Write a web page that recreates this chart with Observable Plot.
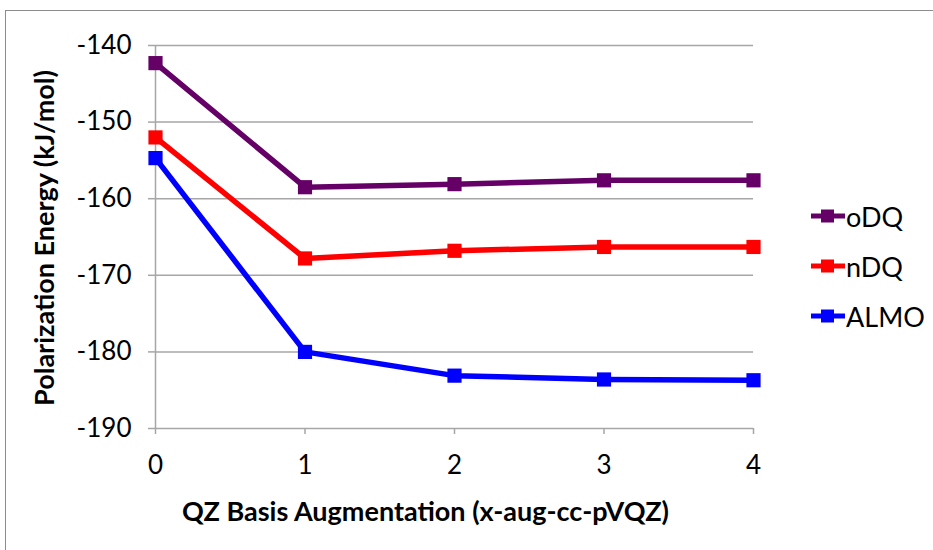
<!DOCTYPE html>
<html>
<head>
<meta charset="utf-8">
<script src="https://cdn.jsdelivr.net/npm/d3@7"></script>
<script src="https://cdn.jsdelivr.net/npm/@observablehq/plot@0.6"></script>
<style>
  html, body { margin: 0; padding: 0; background: #fff; }
  #wrap { position: relative; width: 933px; height: 550px; overflow: hidden; font-family: Lato, "Open Sans", sans-serif; }
  #frame { position: absolute; left: 5px; top: 10px; width: 1000px; height: 700px; border-left: 1.5px solid #8c8c8c; border-top: 1.5px solid #8c8c8c; }
  #legend { position: absolute; left: 811px; top: 191px; }
  .item { display: flex; align-items: center; height: 50px; margin: 0; font-size: 27px; color: #000; }
  .item svg { display: block; margin-right: 1px; }
</style>
</head>
<body>
<div id="wrap">
  <div id="frame"></div>
  <div id="chart"></div>
  <div id="legend"></div>
</div>
<script>
const augmentation = [0, 1, 2, 3, 4];
const seriesNames = ["oDQ", "nDQ", "ALMO"];
const oDQ = [-142.3, -158.5, -158.1, -157.6, -157.6];
const nDQ = [-152.0, -167.8, -166.8, -166.3, -166.3];
const ALMO = [-154.7, -180.0, -183.1, -183.6, -183.7];
const colors = ["#640066", "#ff0000", "#0000ff"];
const yTicks = [-190, -180, -170, -160, -150, -140];
const xLabel = "QZ Basis Augmentation (x-aug-cc-pVQZ)";
const yLabel = "Polarization Energy (kJ/mol)";

const values = { oDQ, nDQ, ALMO };
const data = seriesNames.flatMap(s => augmentation.map((x, i) => ({ series: s, x, y: values[s][i] })));

const chart = Plot.plot({
  width: 933,
  height: 550,
  marginLeft: 155,
  marginRight: 180,
  marginTop: 45,
  marginBottom: 122,
  style: { fontFamily: "Lato, 'Open Sans', sans-serif", fontSize: "26px", color: "#000", background: "transparent", overflow: "visible" },
  x: { domain: [0, 4] },
  y: { domain: [-190, -140] },
  color: { domain: seriesNames, range: colors },
  marks: [
    Plot.gridY(yTicks, { stroke: "#a6a6a6", strokeOpacity: 1, strokeWidth: 1.5 }),
    Plot.axisY(yTicks, { tickSize: 7, tickPadding: 17, stroke: "#a6a6a6", strokeWidth: 1.5, label: null, fontSize: 26, tickFormat: d => "-" + Math.abs(d) }),
    Plot.axisX(augmentation, { tickSize: 6, tickPadding: 21, stroke: "#a6a6a6", strokeWidth: 1.5, label: null, fontSize: 26, tickFormat: d => String(d) }),
    Plot.ruleX([0], { stroke: "#a6a6a6", strokeWidth: 1.5 }),
    Plot.line(data, { x: "x", y: "y", z: "series", stroke: "series", strokeWidth: 5.5, strokeLinejoin: "round" }),
    Plot.dot(data, { x: "x", y: "y", fill: "series", symbol: "square", r: 8, stroke: null }),
    Plot.text([xLabel], { frameAnchor: "bottom", dx: -29, dy: 92, fontWeight: "bold", fontSize: 27, fill: "#000", textAnchor: "middle" }),
    Plot.text([yLabel], { frameAnchor: "left", dx: -110, dy: 1, rotate: -90, fontWeight: "bold", fontSize: 27, fill: "#000", textAnchor: "middle", lineAnchor: "middle" })
  ]
});
document.getElementById("chart").appendChild(chart);

const legend = document.getElementById("legend");
seriesNames.forEach((s, i) => {
  const item = document.createElement("div");
  item.className = "item";
  item.innerHTML = `<svg width="34" height="16"><line x1="0" y1="8" x2="34" y2="8" stroke="${colors[i]}" stroke-width="5"/><rect x="10" y="1.5" width="13" height="13" fill="${colors[i]}"/></svg><span>${s}</span>`;
  legend.appendChild(item);
});
</script>
</body>
</html>
